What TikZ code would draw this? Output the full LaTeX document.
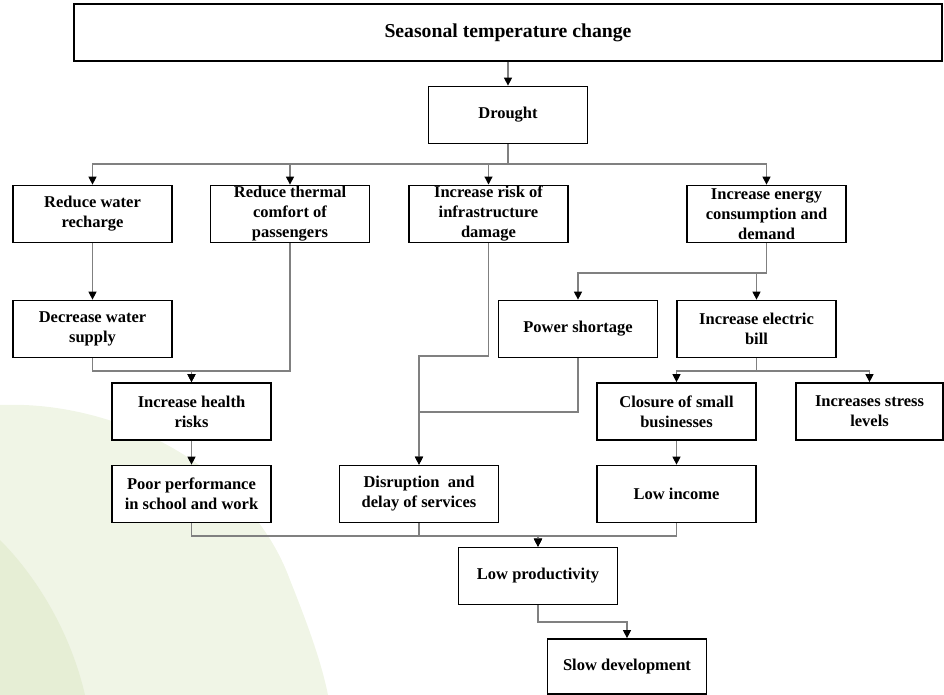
\documentclass[tikz,border=0pt]{standalone}
\usepackage{fontspec}
\setmainfont{Liberation Serif}
\usetikzlibrary{arrows.meta}
\definecolor{conngray}{HTML}{808080}
\definecolor{leaflight}{HTML}{F0F5E6}
\definecolor{leafdark}{HTML}{E6EED5}

\begin{document}
\begin{tikzpicture}[x=1pt, y=-1pt,
    box/.style={rectangle, draw=black, line width=1.7pt, fill=white, minimum width=159pt, minimum height=57pt, inner sep=1pt, align=center, font=\bfseries\fontsize{16.5}{20}\selectfont},
    title/.style={box, minimum width=868pt, font=\bfseries\fontsize{19.7}{23}\selectfont},
    arrow/.style={draw=conngray, line width=1.1pt, -{Triangle[length=8pt, width=8pt, color=black, fill=black]}}
]
\useasboundingbox (0,0) rectangle (944,695);

% Background leaf
\fill[leaflight] (0,405) .. controls (120,400) and (250,470) .. (290,580) .. controls (310,630) and (322,665) .. (328,695) -- (0,695) -- cycle;
\fill[leafdark] (0,540) .. controls (35,575) and (70,630) .. (85,695) -- (0,695) -- cycle;

% Boxes
\node[title] (stc) at (508,32.5) {Seasonal temperature change};
\node[box] (dr) at (508,115) {Drought};

% First row
\node[box] (rwr) at (92.5,214) {Reduce water\\recharge};
\node[box] (rtc) at (290,214) {Reduce thermal\\comfort of\\passengers};
\node[box] (iri) at (488.5,214) {Increase risk of\\infrastructure\\damage};
\node[box] (iec) at (766.5,214) {Increase energy\\consumption and\\demand};

% Second row
\node[box] (dws) at (92.5,329) {Decrease water\\supply};
\node[box] (psh) at (578,329) {Power shortage};
\node[box] (ieb) at (756.5,329) {Increase electric\\bill};

% Third row
\node[box] (ihr) at (191.5,411.5) {Increase health\\risks};
\node[box] (csb) at (676.5,411.5) {Closure of small\\businesses};
\node[box, minimum width=147pt] (isl) at (869.5,411.5) {Increases stress\\levels};

% Fourth row
\node[box] (ppf) at (191.5,494) {Poor performance\\in school and work};
\node[box] (dds) at (419,494) {Disruption \ and\\delay of services};
\node[box] (lin) at (676.5,494) {Low income};

% Outcome
\node[box] (lpr) at (538,576) {Low productivity};
\node[box, minimum height=55pt] (sdv) at (627,666.5) {Slow development};

% Junctions
\coordinate (j1) at (508,164);
\coordinate (j2) at (191.5,371);
\coordinate (j3) at (419,356);
\coordinate (j4) at (419,412);
\coordinate (j5) at (766.5,273);
\coordinate (j6) at (756.5,371);
\coordinate (j7) at (538,536);
\coordinate (j8) at (538,622);

% Arrows
\draw[arrow] (stc) -- (dr);
\foreach \n in {rwr,rtc,iri,iec}
    \draw[arrow] (dr.south) -- (j1) -| (\n.north);
\draw[arrow] (rwr) -- (dws);
\draw[arrow] (dws.south) |- (j2) -- (ihr.north);
\draw[arrow] (rtc.south) |- (j2) -- (ihr.north);
\draw[arrow] (ihr) -- (ppf);
\draw[arrow] (iri.south) |- (j3) -- (dds.north);
\draw[arrow] (psh.south) |- (j4) -- (dds.north);
\foreach \n in {psh,ieb}
    \draw[arrow] (iec.south) -- (j5) -| (\n.north);
\foreach \n in {csb,isl}
    \draw[arrow] (ieb.south) -- (j6) -| (\n.north);
\draw[arrow] (csb) -- (lin);
\foreach \n in {ppf,dds,lin}
    \draw[arrow] (\n.south) |- (j7) -- (lpr.north);
\draw[arrow] (lpr.south) -- (j8) -| (sdv.north);

\end{tikzpicture}
\end{document}
